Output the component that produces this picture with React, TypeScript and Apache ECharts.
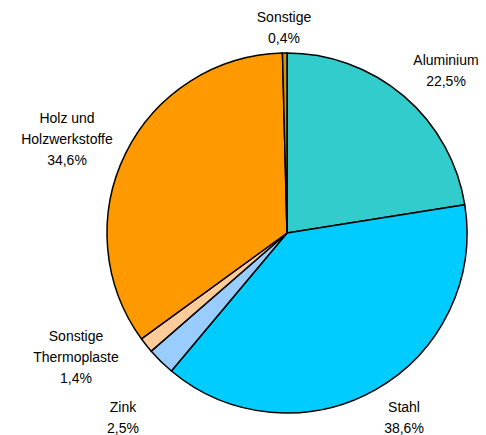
import React, { useEffect, useRef } from "react";
import * as echarts from "echarts";

const categories = ["Aluminium", "Stahl", "Zink", "Sonstige\nThermoplaste", "Holz und\nHolzwerkstoffe", "Sonstige"];
const values = [22.5, 38.6, 2.5, 1.4, 34.6, 0.4];
const colors = ["#33CCCC", "#00CCFF", "#99CCFF", "#FFCC99", "#FF9900", "#CC9900"];
const labelPos: [number, number][] = [
  [446, 70],
  [404, 417],
  [123, 417],
  [76, 357],
  [67, 139],
  [284, 27],
];

export default function App() {
  const ref = useRef<HTMLDivElement>(null);
  useEffect(() => {
    if (!ref.current) return;
    const chart = echarts.init(ref.current, undefined, { renderer: "svg" });
    chart.setOption({
      animation: false,
      backgroundColor: "#ffffff",
      series: [
        {
          type: "pie",
          center: [287, 233],
          radius: [0, 180],
          startAngle: 90,
          clockwise: true,
          avoidLabelOverlap: false,
          itemStyle: { borderColor: "#000000", borderWidth: 1.5 },
          label: {
            show: true,
            position: "outside",
            fontFamily: "Liberation Sans, Arial, sans-serif",
            fontSize: 14,
            lineHeight: 21,
            color: "#000000",
            align: "center",
            formatter: (p: any) => `${p.name}\n${values[p.dataIndex].toFixed(1).replace(".", ",")}%`,
          },
          labelLine: { show: false },
          labelLayout: (p: any) => ({
            x: labelPos[p.dataIndex][0],
            y: labelPos[p.dataIndex][1],
            align: "center",
            verticalAlign: "middle",
          }),
          emphasis: { disabled: true },
          data: categories.map((c, i) => ({ name: c, value: values[i], itemStyle: { color: colors[i] } })),
        },
      ],
    });
    return () => chart.dispose();
  }, []);
  return <div ref={ref} style={{ position: "fixed", left: 0, top: 0, width: 486, height: 435 }} />;
}
